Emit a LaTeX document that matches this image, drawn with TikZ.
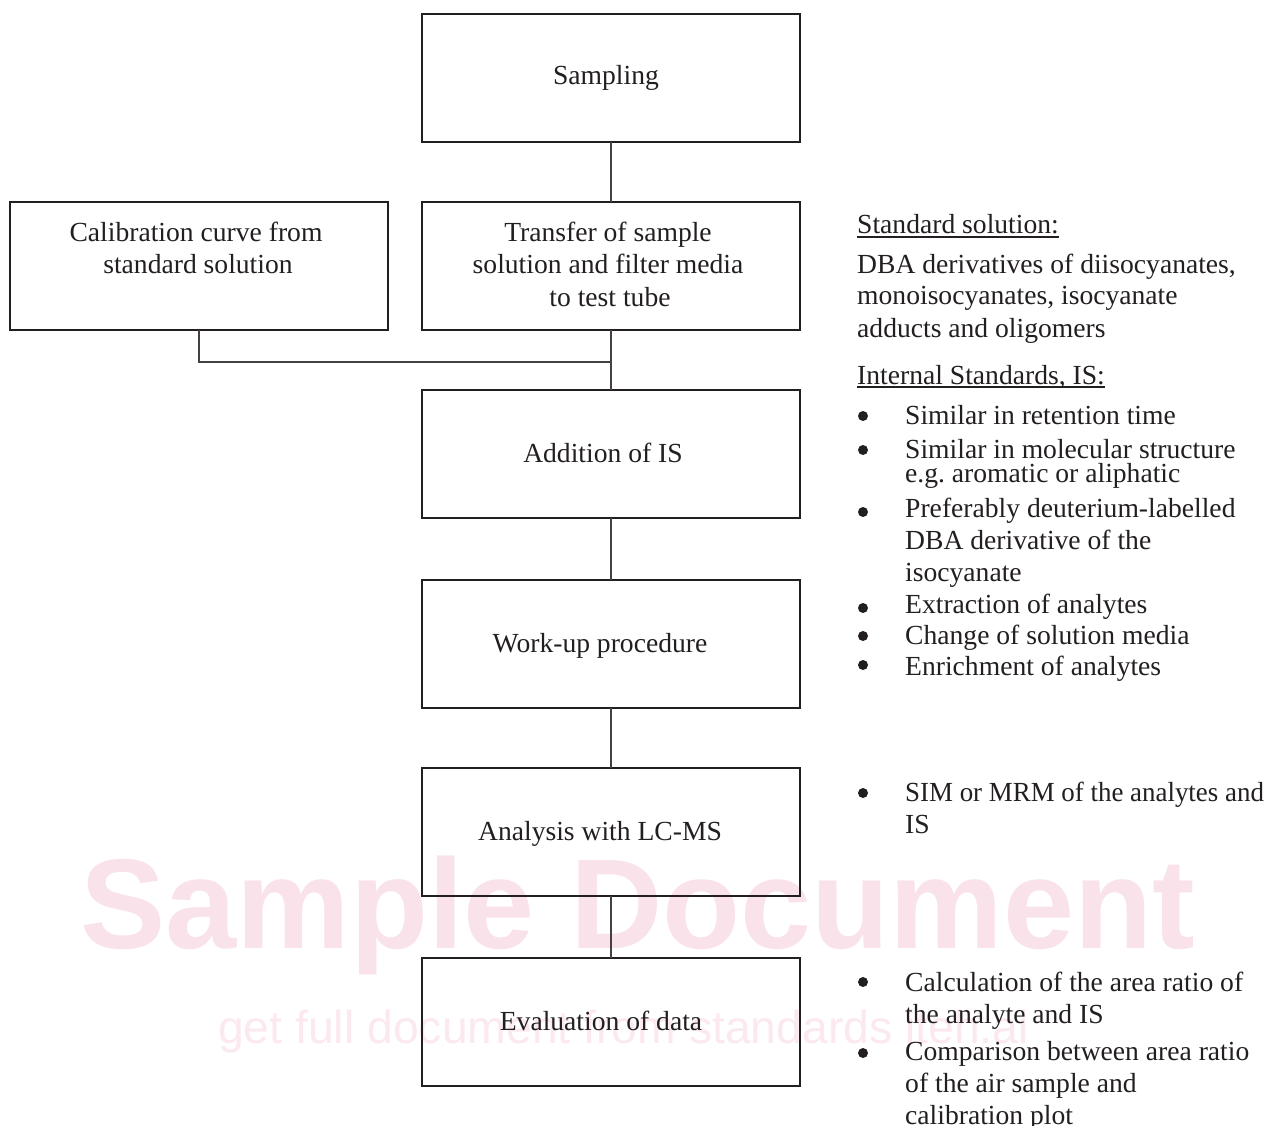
\documentclass[tikz,border=0pt]{standalone}
\usepackage{fontspec}
\usepackage{graphicx}
\setmainfont{Liberation Serif}
\newfontfamily\wmfont{Liberation Sans}
\definecolor{wmpink}{RGB}{250,226,234}
\definecolor{wmpinklight}{RGB}{252,233,239}
\definecolor{ink}{RGB}{35,31,32}
\frenchspacing
\begin{document}
\begin{tikzpicture}[x=1pt,y=-1pt,
  box/.style={draw=ink, line width=2.4pt, minimum width=378pt, minimum height=128pt, inner sep=0pt, outer sep=0pt},
  conn/.style={draw=ink!85, line width=1.4pt},
  btxt/.style={font=\fontsize{27.6}{32}\selectfont, text=ink, inner sep=0pt, anchor=base},
  rtxt/.style={font=\fontsize{27.6}{32}\selectfont, text=ink, inner sep=0pt, anchor=base west},
  uline/.style={draw=ink, line width=1.4pt}]
\useasboundingbox (0,0) rectangle (1267,1126);
\fill[white] (0,0) rectangle (1267,1126);
% watermark
\node[anchor=base west, inner sep=0pt, font=\wmfont\bfseries\fontsize{127.8}{128}\selectfont, text=wmpink] (wm1) at (80,948) {Sample Document};
\node[anchor=base west, inner sep=0pt, font=\wmfont\fontsize{46.3}{46}\selectfont, text=wmpinklight] (wm2) at (218,1043) {get full document from standards iteh.ai};
% boxes
\node[box] (samp) at (611,78) {};
\node[box] (calib) at (199,266) {};
\node[box] (trans) at (611,266) {};
\node[box] (addis) at (611,454) {};
\node[box] (work) at (611,644) {};
\node[box] (anal) at (611,832) {};
\node[box] (eval) at (611,1022) {};
% connectors
\coordinate (join) at (611,362);
\draw[conn] (samp.south) -- (trans.north);
\draw[conn] (trans.south) -- (addis.north);
\draw[conn] (calib.south) |- (join);
\draw[conn] (addis.south) -- (work.north);
\draw[conn] (work.south) -- (anal.north);
\draw[conn] (anal.south) -- (eval.north);
% box texts
\node[btxt] (t1) at (606,85) {Sampling};
\node[btxt] (t2a) at (196,242) {Calibration curve from};
\node[btxt] (t2b) at (198,274) {standard solution};
\node[btxt] (t3a) at (608,242) {Transfer of sample};
\node[btxt] (t3b) at (608,274) {solution and filter media};
\node[btxt] (t3c) at (610,306) {to test tube};
\node[btxt] (t4) at (603,462) {Addition of IS};
\node[btxt] (t5) at (600,652) {Work-up procedure};
\node[btxt] (t6) at (600,840) {Analysis with LC-MS};
\node[btxt] (t7) at (601,1030) {Evaluation of data};
% right side texts
\node[rtxt] (h1) at (857,234) {Standard solution:};
\draw[uline] ([yshift=-3pt]h1.base west) -- ([yshift=-3pt]h1.base east);
\node[rtxt] (p1) at (857,274) {DBA derivatives of diisocyanates,};
\node[rtxt] (p2) at (857,305) {monoisocyanates, isocyanate};
\node[rtxt] (p3) at (857,337) {adducts and oligomers};
\node[rtxt] (h2) at (857,384) {Internal Standards, IS:};
\draw[uline] ([yshift=-3pt]h2.base west) -- ([yshift=-3pt]h2.base east);
\node[rtxt] (b1) at (905,424) {Similar in retention time};
\node[rtxt] (b2a) at (905,458) {Similar in molecular structure};
\node[rtxt] (b2b) at (905,482) {e.g. aromatic or aliphatic};
\node[rtxt] (b3a) at (905,517) {Preferably deuterium-labelled};
\node[rtxt] (b3b) at (905,549) {DBA derivative of the};
\node[rtxt] (b3c) at (905,581) {isocyanate};
\node[rtxt] (b4) at (905,613) {Extraction of analytes};
\node[rtxt] (b5) at (905,644) {Change of solution media};
\node[rtxt] (b6) at (905,675) {Enrichment of analytes};
\node[rtxt] (c1a) at (905,801) {\scalebox{0.975}[1]{SIM or MRM of the analytes and}};
\node[rtxt] (c1b) at (905,833) {IS};
\node[rtxt] (d1a) at (905,991) {Calculation of the area ratio of};
\node[rtxt] (d1b) at (905,1023) {the analyte and IS};
\node[rtxt] (d2a) at (905,1060) {Comparison between area ratio};
\node[rtxt] (d2b) at (905,1092) {of the air sample and};
\node[rtxt] (d2c) at (905,1124) {calibration plot};
% bullets
\foreach \yy in {416,450,512,608,636,665,793,982,1053}
  \fill[ink] (863,\yy) circle[radius=5pt];
\end{tikzpicture}
\end{document}
